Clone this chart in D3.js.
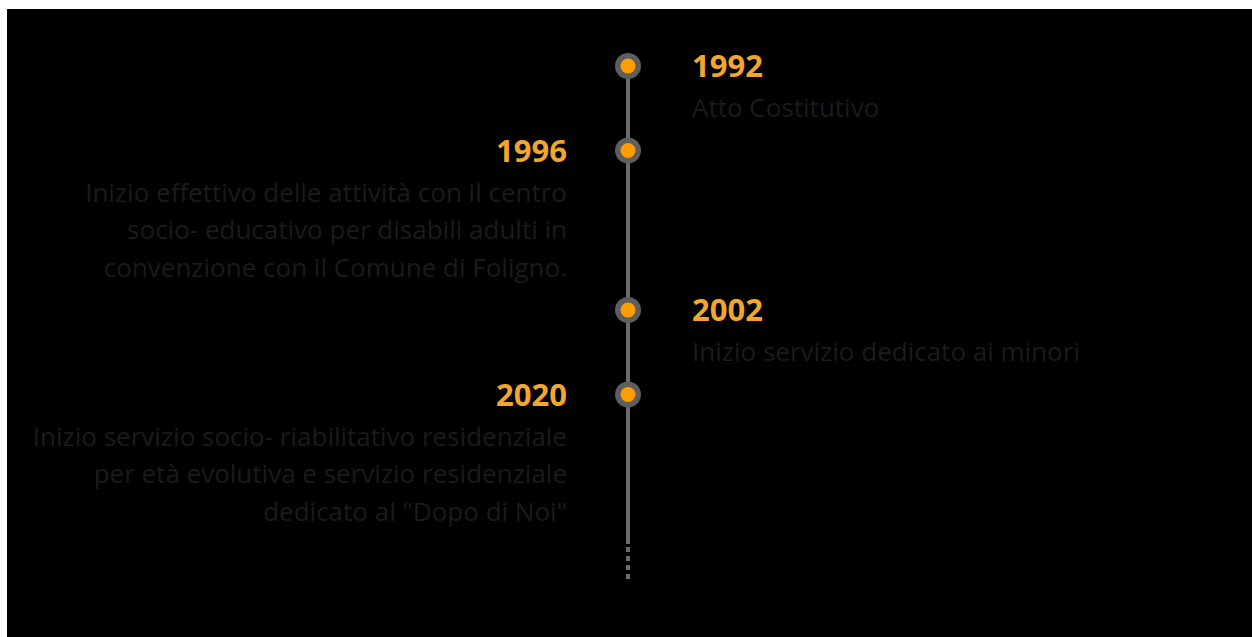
<!DOCTYPE html>
<html>
<head>
<meta charset="utf-8">
<script src="https://cdn.jsdelivr.net/npm/d3@7"></script>
<style>
  html, body { margin: 0; padding: 0; background: #fff; overflow: hidden; }
  svg { display: block; }
</style>
</head>
<body>
<svg id="chart"></svg>
<script>
// timeline data
const years = ["1992", "1996", "2002", "2020"]
const sides = ["right", "left", "right", "left"]
const descriptions = [
    ["Atto Costitutivo"],
    ["Inizio effettivo delle attività con il centro",
     "socio- educativo per disabili adulti in",
     "convenzione con il Comune di Foligno."],
    ["Inizio servizio dedicato ai minori"],
    ["Inizio servizio socio- riabilitativo residenziale",
     "per età evolutiva e servizio residenziale",
     "dedicato al \"Dopo di Noi\""]
]

const width = 1252
const height = 637
const axisX = 628
const top_y = 66
const item_base = 47     // header height of one item
const line_h = 37.5      // line height of description

const svg = d3.select("#chart")
    .attr("width", width)
    .attr("height", height)

svg.append("rect")
    .attr("x", 7)
    .attr("y", 9)
    .attr("width", width - 7)
    .attr("height", height - 9)
    .attr("fill", "#000")

// stacked layout: each item takes header + its description lines
let offsets = [0]
descriptions.forEach((d, i) => {
    offsets.push(offsets[i] + item_base + d.length * line_h)
})
const y = d3.scaleLinear()
    .domain([0, 1])
    .range([top_y, top_y + 1])

const data = years.map((yr, i) => ({ year: yr, side: sides[i], lines: descriptions[i], pos: offsets[i] }))
const end_pos = offsets[offsets.length - 1]

const g = svg.append("g")

// solid line
g.append("line")
    .attr("x1", axisX).attr("x2", axisX)
    .attr("y1", y(0))
    .attr("y2", y(end_pos - 10))
    .attr("stroke", "#6c6c6c")
    .attr("stroke-width", 4)

// dotted tail
g.append("line")
    .attr("x1", axisX).attr("x2", axisX)
    .attr("y1", y(end_pos - 7))
    .attr("y2", y(end_pos + 27))
    .attr("stroke", "#6c6c6c")
    .attr("stroke-width", 4)
    .attr("stroke-dasharray", "5,4")

const items = g.selectAll(".item")
    .data(data)
    .join("g")
        .attr("class", "item")
        .attr("transform", d => `translate(0, ${y(d.pos)})`)

items.append("circle")
    .attr("cx", axisX)
    .attr("cy", 0)
    .attr("r", 13)
    .attr("fill", "#5e5e5e")

items.append("circle")
    .attr("cx", axisX)
    .attr("cy", 0)
    .attr("r", 7.5)
    .attr("fill", "#ff9c00")

items.append("text")
    .attr("x", d => d.side === "right" ? axisX + 64 : axisX - 61)
    .attr("y", 0)
    .attr("dy", "0.36em")
    .attr("text-anchor", d => d.side === "right" ? "start" : "end")
    .attr("font-family", "'Open Sans', sans-serif")
    .attr("font-weight", "bold")
    .attr("font-size", 31)
    .attr("fill", "#f2a62e")
    .text(d => d.year)

items.each(function (d) {
    const t = d3.select(this).append("text")
        .attr("text-anchor", d.side === "right" ? "start" : "end")
        .attr("font-family", "'Open Sans', sans-serif")
        .attr("font-size", 26)
        .attr("fill", "#1b1b1b")
    t.selectAll("tspan")
        .data(d.lines)
        .join("tspan")
            .attr("x", d.side === "right" ? axisX + 64 : axisX - 61)
            .attr("y", (l, i) => 42 + i * line_h)
            .attr("dy", "0.36em")
            .text(l => l)
})
</script>
</body>
</html>
